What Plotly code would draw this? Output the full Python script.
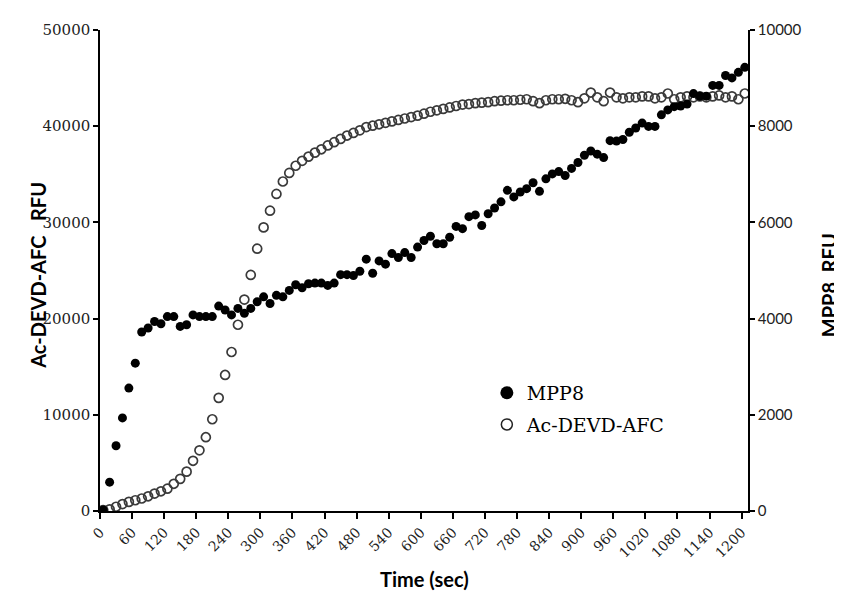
import plotly.graph_objects as go

# Time points (sec), sampled every 12 s
TIME = list(range(0, 1201, 12))

# Ac-DEVD-AFC RFU (left axis)
AC_DEVD_AFC = [
    100, 170, 440, 720, 950, 1120, 1300, 1530, 1810, 2050,
    2320, 2830, 3340, 4090, 5220, 6310, 7670, 9540, 11760, 14140,
    16530, 19360, 21980, 24540, 27270, 29480, 31220, 32960, 34250, 35140,
    35890, 36400, 36840, 37250, 37600, 38000, 38340, 38680, 39030, 39300,
    39570, 39910, 40050, 40200, 40350, 40500, 40650, 40800, 40950, 41100,
    41300, 41500, 41650, 41800, 41950, 42100, 42250, 42300, 42400, 42450,
    42500, 42600, 42650, 42700, 42700, 42750, 42800, 42600, 42400, 42700,
    42800, 42800, 42850, 42700, 42500, 42900, 43500, 43000, 42600, 43500,
    43000, 42900, 43000, 43000, 43100, 43100, 42900, 43000, 43400, 42800,
    43000, 43100, 43000, 43100, 43000, 43100, 43200, 43000, 43100, 42800,
    43400,
]

# MPP8 RFU (right axis)
MPP8 = [
    20, 600, 1356, 1936, 2556, 3074, 3722, 3804, 3940, 3892,
    4042, 4042, 3838, 3872, 4076, 4042, 4042, 4042, 4260, 4178,
    4076, 4212, 4110, 4212, 4350, 4452, 4314, 4484, 4452, 4586,
    4704, 4642, 4724, 4738, 4738, 4690, 4738, 4914, 4914, 4894,
    4984, 5236, 4942, 5200, 5132, 5352, 5270, 5372, 5270, 5486,
    5624, 5712, 5556, 5556, 5692, 5916, 5870, 6120, 6156, 5936,
    6180, 6300, 6428, 6666, 6530, 6632, 6702, 6824, 6646, 6906,
    7008, 7056, 6974, 7122, 7246, 7396, 7484, 7418, 7348, 7700,
    7690, 7724, 7874, 7962, 8064, 7996, 7996, 8236, 8338, 8406,
    8420, 8460, 8678, 8624, 8624, 8848, 8848, 9054, 9004, 9120,
    9224,
]

X_TICKS = [0, 60, 120, 180, 240, 300, 360, 420, 480, 540, 600, 660, 720,
           780, 840, 900, 960, 1020, 1080, 1140, 1200]
LEFT_TICKS = [0, 10000, 20000, 30000, 40000, 50000]
RIGHT_TICKS = [0, 2000, 4000, 6000, 8000, 10000]

HALF_STEP = 6  # ticks sit between sample categories (category-axis look)

SERIF = "DejaVu Serif"
SANS = "Lato"

fig = go.Figure()

# data traces
fig.add_trace(go.Scatter(
    x=TIME, y=AC_DEVD_AFC, mode="markers", name="Ac-DEVD-AFC",
    marker=dict(symbol="circle-open", size=9, color="#3a3a3a",
                line=dict(width=1.7, color="#3a3a3a")),
    showlegend=False, yaxis="y"))
fig.add_trace(go.Scatter(
    x=TIME, y=MPP8, mode="markers", name="MPP8",
    marker=dict(symbol="circle", size=9, color="black"),
    showlegend=False, yaxis="y2"))

# legend entries
fig.add_trace(go.Scatter(
    x=[None], y=[None], mode="markers", name="MPP8",
    marker=dict(symbol="circle", size=13, color="black"),
    legendgroup="a", showlegend=True))
fig.add_trace(go.Scatter(
    x=[None], y=[None], mode="markers", name="Ac-DEVD-AFC",
    marker=dict(symbol="circle-open", size=11, color="#222",
                line=dict(width=1.5, color="#222")),
    legendgroup="b", showlegend=True))

fig.update_layout(
    width=834, height=586,
    margin=dict(l=92, r=94, t=14, b=83),
    paper_bgcolor="white", plot_bgcolor="white",
    xaxis=dict(
        range=[-HALF_STEP, 1200 + HALF_STEP],
        tickvals=[t - HALF_STEP for t in X_TICKS],
        ticktext=[str(t) for t in X_TICKS],
        tickangle=-45,
        showline=True, linecolor="black", linewidth=1.5,
        ticks="outside", ticklen=6, tickwidth=1.5, tickcolor="black",
        showgrid=False, zeroline=False,
        tickfont=dict(family=SERIF, size=14, color="#222"),
    ),
    yaxis=dict(
        range=[0, 50000], tickvals=LEFT_TICKS,
        ticktext=[str(v) for v in LEFT_TICKS],
        showline=True, linecolor="black", linewidth=1.5,
        ticks="outside", ticklen=5, tickwidth=1.5, tickcolor="black",
        showgrid=False, zeroline=False,
        tickfont=dict(family=SERIF, size=15, color="#222"),
    ),
    yaxis2=dict(
        range=[0, 10000], tickvals=RIGHT_TICKS,
        ticktext=[str(v) for v in RIGHT_TICKS],
        overlaying="y", side="right",
        showline=True, linecolor="black", linewidth=1.5,
        ticks="outside", ticklen=5, tickwidth=1.5, tickcolor="black",
        showgrid=False, zeroline=False,
        tickfont=dict(family=SANS, size=15, color="#222"),
    ),
    legend=dict(
        x=0.597, y=0.285, xanchor="left", yanchor="top",
        font=dict(family=SERIF, size=19, color="black"),
        bgcolor="rgba(0,0,0,0)", tracegroupgap=4,
    ),
    showlegend=True,
)

fig.add_annotation(text="Time (sec)", xref="paper", yref="paper",
                   x=0.5, y=-0.141, xanchor="center", yanchor="middle",
                   showarrow=False,
                   font=dict(family=SANS, size=20, color="black", weight="bold"))
fig.add_annotation(text="Ac-DEVD-AFC\u00a0\u00a0\u00a0RFU", xref="paper", yref="paper",
                   x=-0.0957, y=0.491, xanchor="center", yanchor="middle",
                   textangle=-90, showarrow=False,
                   font=dict(family=SANS, size=20, color="black", weight="bold"))
fig.add_annotation(text="MPP8\u00a0\u00a0RFU", xref="paper", yref="paper",
                   x=1.1255, y=0.470, xanchor="center", yanchor="middle",
                   textangle=-90, showarrow=False,
                   font=dict(family=SANS, size=20, color="black", weight="bold"))

fig.write_html("out.html")
